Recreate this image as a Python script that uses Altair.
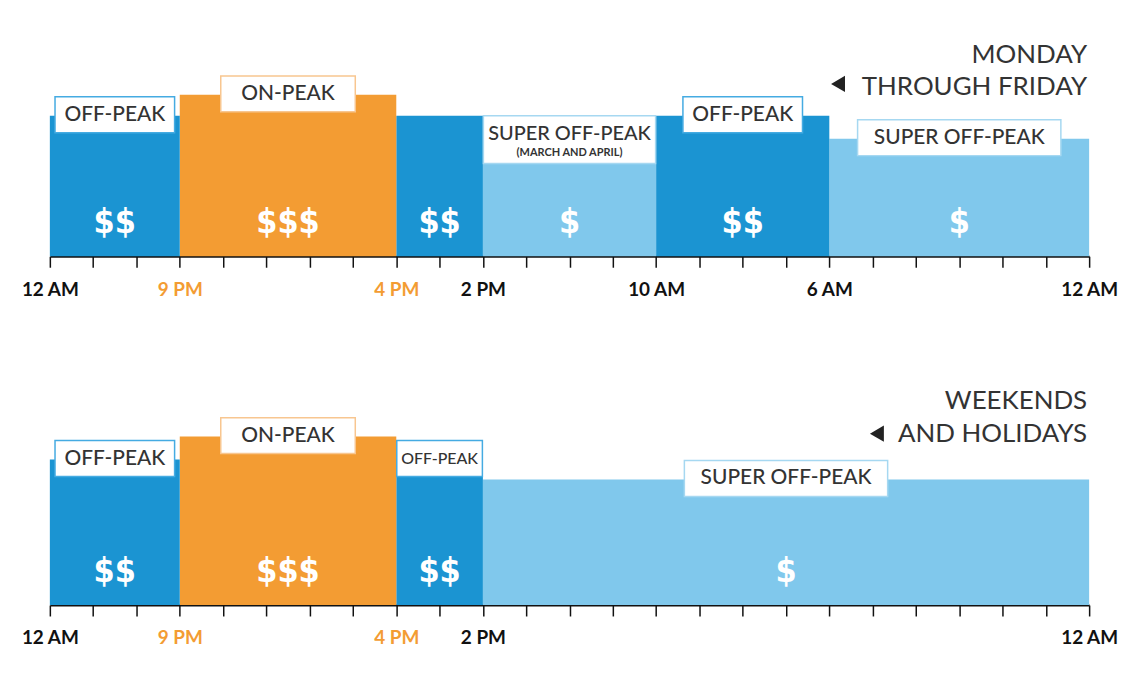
import altair as alt
import pandas as pd

# ---------------- data ----------------
# hours from 0 (12 AM) to 24 (12 AM); the chart runs right-to-left
WD_START = [0, 6, 10, 14, 16, 21]
WD_END = [6, 10, 14, 16, 21, 24]
WD_RATE = ["super", "off", "super", "off", "on", "off"]
WD_LEVEL = [118, 141, 93, 141, 162, 141]
WD_LABEL = ["SUPER OFF-PEAK", "OFF-PEAK", "SUPER OFF-PEAK", "", "ON-PEAK", "OFF-PEAK"]
WD_SUB = ["", "", "(MARCH AND APRIL)", "", "", ""]
WD_PRICE = ["$", "$$", "$", "$$", "$$$", "$$"]

WE_START = [0, 14, 16, 21]
WE_END = [14, 16, 21, 24]
WE_RATE = ["super", "off", "on", "off"]
WE_LEVEL = [126, 146, 169, 146]
WE_LABEL = ["SUPER OFF-PEAK", "OFF-PEAK", "ON-PEAK", "OFF-PEAK"]
WE_SUB = ["", "", "", ""]
WE_PRICE = ["$", "$$", "$$$", "$$"]

WD_TICKS = [0, 6, 10, 14, 16, 21, 24]
WD_TICK_LABELS = ["12 AM", "6 AM", "10 AM", "2 PM", "4 PM", "9 PM", "12 AM"]
WE_TICKS = [0, 14, 16, 21, 24]
WE_TICK_LABELS = ["12 AM", "2 PM", "4 PM", "9 PM", "12 AM"]

WD_TITLE = ["MONDAY", "THROUGH FRIDAY"]
WE_TITLE = ["WEEKENDS", "AND HOLIDAYS"]

# ---------------- style ----------------
W, H = 1043, 220
PX_PER_H = W / 24
RATE_DOMAIN = ["off", "on", "super"]
RATE_COLORS = ["#1b94d2", "#f39c33", "#80c8ec"]
BOX_STROKE = {"off": "#45abe2", "on": "#f8c690", "super": "#a6d8f1"}
BOX_W = {"OFF-PEAK": 120, "ON-PEAK": 135, "SUPER OFF-PEAK": 204}
FONT = "Lato"
TEXT_COL = "#333333"
ORANGE = "#f39c33"


def build(start, end, rate, level, label, sub, price):
    df = pd.DataFrame({"start": start, "end": end, "rate": rate, "level": level,
                       "label": label, "sub": sub, "price": price})
    df["base"] = 0
    df["mid"] = (df["start"] + df["end"]) / 2
    segw = (df["end"] - df["start"]) * PX_PER_H
    rows = []
    for i, r in df.iterrows():
        if not r["label"]:
            bw, fs = 0, 0
        elif r["sub"]:
            bw, fs = segw[i] - 1, 20
        else:
            want = BOX_W[r["label"]]
            bw = min(want, segw[i] - 1)
            fs = 21 if want <= segw[i] else 16
        rows.append((bw, fs))
    df["bw"] = [r[0] for r in rows]
    df["fs"] = [r[1] for r in rows]
    df["bx1"] = df["mid"] - df["bw"] / 2 / PX_PER_H
    df["bx2"] = df["mid"] + df["bw"] / 2 / PX_PER_H
    two = df["sub"] != ""
    df["by1"] = df["level"].where(two, df["level"] - 17)
    df["by2"] = (df["level"] + 48).where(two, df["level"] + 19)
    df["ty"] = (df["level"] + 30).where(two, df["level"] + 1)
    df["sy"] = df["level"] + 11
    df["stroke"] = df["rate"].map(BOX_STROKE)
    df["py"] = 33
    return df


def label_expr(ticks, labels):
    expr = "''"
    for t, l in zip(ticks, labels):
        expr = f"datum.value == {t} ? '{l}' : ({expr})"
    return expr


xscale = alt.Scale(domain=[0, 24], reverse=True, nice=False, zero=False)
yscale = alt.Scale(domain=[0, H], nice=False, zero=False)


def panel(df, ticks, tick_labels, title_lines, tri_x, tri_y, title_y):
    base = alt.Chart(df)
    axis = alt.Axis(
        values=list(range(25)), labelExpr=label_expr(ticks, tick_labels),
        grid=False, tickSize=11, tickWidth=1.5, tickColor="#111", domainColor="#111",
        domainWidth=1.8, labelFont=FONT, labelFontSize=19, labelFontWeight="bold",
        labelColor={"condition": {"test": "datum.value == 21 || datum.value == 16",
                                  "value": ORANGE}, "value": "#111"},
        labelPadding=13, labelFlush=False, labelOverlap=False, title=None,
    )
    bars = base.mark_rect().encode(
        x=alt.X("start:Q", scale=xscale, axis=axis), x2="end:Q",
        y=alt.Y("base:Q", scale=yscale, axis=None), y2="level:Q",
        color=alt.Color("rate:N", scale=alt.Scale(domain=RATE_DOMAIN, range=RATE_COLORS), legend=None),
    )
    lab = base.transform_filter("datum.label != ''")
    boxes = lab.mark_rect(fill="white", strokeWidth=1.5).encode(
        x=alt.X("bx1:Q", scale=xscale), x2="bx2:Q",
        y=alt.Y("by1:Q", scale=yscale), y2="by2:Q",
        stroke=alt.Stroke("stroke:N", scale=None),
    )
    labels = lab.mark_text(font=FONT, color=TEXT_COL, baseline="middle", fontWeight=500).encode(
        x=alt.X("mid:Q", scale=xscale), y=alt.Y("ty:Q", scale=yscale),
        text="label:N", size=alt.Size("fs:Q", scale=None),
    )
    subs = base.transform_filter("datum.sub != ''").mark_text(
        font=FONT, color=TEXT_COL, baseline="middle", fontSize=11, fontWeight="bold").encode(
        x=alt.X("mid:Q", scale=xscale), y=alt.Y("sy:Q", scale=yscale), text="sub:N",
    )
    prices = base.mark_text(font="Liberation Sans Narrow, DejaVu Sans Condensed, sans-serif",
                            color="white", fontWeight="bold", fontSize=34, baseline="middle").encode(
        x=alt.X("mid:Q", scale=xscale), y=alt.Y("py:Q", scale=yscale), text="price:N",
    )
    tdf = pd.DataFrame({"t": title_lines, "i": [0, 1]})
    titles = alt.Chart(tdf).transform_calculate(
        yy=f"{title_y[0]} + datum.i * {title_y[1] - title_y[0]}"
    ).mark_text(font=FONT, fontSize=26, color=TEXT_COL, align="right", baseline="alphabetic").encode(
        x=alt.value(W - 2), y=alt.Y("yy:Q", scale=None), text="t:N",
    )
    tri = alt.Chart(pd.DataFrame({"k": [1]})).mark_point(
        shape="triangle-left", filled=True, color="#222", opacity=1, size=260).encode(
        x=alt.value(tri_x), y=alt.value(tri_y),
    )
    return alt.layer(bars, boxes, labels, subs, prices, titles, tri).properties(width=W, height=H)


wd = build(WD_START, WD_END, WD_RATE, WD_LEVEL, WD_LABEL, WD_SUB, WD_PRICE)
we = build(WE_START, WE_END, WE_RATE, WE_LEVEL, WE_LABEL, WE_SUB, WE_PRICE)

top = panel(wd, WD_TICKS, WD_TICK_LABELS, WD_TITLE, 791, 47, (26, 58))
bottom = panel(we, WE_TICKS, WE_TICK_LABELS, WE_TITLE, 830, 48, (23, 56))

chart = alt.vconcat(top, bottom, spacing=87).properties(
    padding={"left": 13, "top": 28, "right": 10, "bottom": 5},
).configure_view(stroke=None)

chart.save("out.html", embed_options={"renderer": "svg", "actions": False})
